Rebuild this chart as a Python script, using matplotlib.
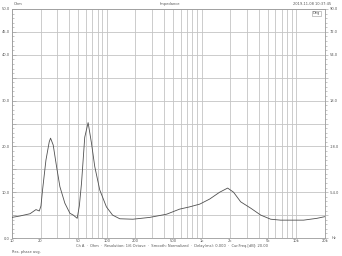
import matplotlib
matplotlib.use("Agg")
import matplotlib.pyplot as plt
from matplotlib.ticker import FixedLocator, NullFormatter, MultipleLocator

# ---- data ----
freq_hz = [10, 12.1, 15.5, 17.9, 19.4, 20.2, 21.0, 22.8, 24.7, 25.5, 27.2, 29.5,
           32.0, 36.1, 40.8, 44.3, 48.7, 51.3, 54.1, 58.5, 63.5, 68.9, 74.6,
           84.2, 99, 115, 137, 188, 284, 428, 585, 748, 956, 1214, 1550, 1880,
           2170, 2580, 3300, 4200, 5350, 6800, 11900, 16500, 19800]
impedance_ohm = [4.5, 4.8, 5.3, 6.2, 5.9, 7.0, 10.5, 17.0, 21.0, 21.8, 20.3, 15.6,
                 11.2, 7.6, 5.4, 5.0, 4.3, 7.0, 12.0, 22.0, 25.2, 20.7, 15.6,
                 10.5, 6.8, 5.0, 4.2, 4.1, 4.5, 5.2, 6.3, 6.8, 7.4, 8.5, 10.0, 10.9,
                 10.0, 7.9, 6.5, 5.0, 4.1, 3.9, 3.9, 4.3, 4.65]

x_tick_values = [10, 20, 50, 100, 200, 500, 1000, 2000, 5000, 10000, 20000]
x_tick_labels = ["10", "20", "50", "100", "200", "500", "1k", "2k", "5k", "10k", "20k"]
left_tick_values = [0, 10, 20, 30, 40, 45, 50]
left_tick_labels = ["0.0", "10.0", "20.0", "30.0", "40.0", "45.0", "50.0"]
right_tick_values = [-54, -18, 18, 54, 72, 90]
right_tick_labels = ["-54.0", "-18.0", "18.0", "54.0", "72.0", "90.0"]

title_text = "Impedance"
left_unit = "Ohm"
right_unit = "Deg"
x_unit = "Hz"
date_text = "2019-11-08 10:37:45"
footer_text = ("Ch A  \u00b7  Ohm  \u00b7  Resolution: 1/6 Octave  \u00b7  Smooth: Normalized  \u00b7  "
               "Delay(ms): 0.000  \u00b7  Cur.Freq.[dB]: 20.00")
corner_text = "Res. phase avg."

# ---- figure ----
fig = plt.figure(figsize=(3.42, 2.56), dpi=100)
fig.patch.set_facecolor("white")
ax = fig.add_axes([12/342, 1-238/256, 313/342, 229/256])

grid_c = "#c4c4c4"
frame_c = "#9a9a9a"
text_c = "#555555"
fs = 2.6

ax.plot(freq_hz, impedance_ohm, color="#505050", lw=0.6, zorder=3)
ax.set_xscale("log")
ax.set_xlim(10, 20000)
ax.set_ylim(0, 50)

minor_x = [m * 10**d for d in range(1, 5) for m in range(1, 10) if m * 10**d <= 20000]
ax.xaxis.set_major_locator(FixedLocator(x_tick_values))
ax.xaxis.set_minor_locator(FixedLocator(minor_x))
ax.set_xticklabels(x_tick_labels)
ax.xaxis.set_minor_formatter(NullFormatter())
ax.grid(True, which="both", axis="x", color=grid_c, lw=0.6)
ax.yaxis.set_minor_locator(MultipleLocator(1))
ax.set_yticks([v for v in range(0, 51, 5)])
ax.set_yticklabels([left_tick_labels[left_tick_values.index(v)] if v in left_tick_values else ""
                    for v in range(0, 51, 5)])
ax.grid(True, which="major", axis="y", color=grid_c, lw=0.6)

ax.tick_params(axis="x", which="both", length=0, labelsize=fs, labelcolor=text_c, pad=0.8)
ax.tick_params(axis="y", which="major", direction="in", length=3, width=0.4, color=frame_c,
               labelsize=fs, labelcolor=text_c, pad=1.5)
ax.tick_params(axis="y", which="minor", direction="in", length=1.5, width=0.4, color=frame_c)
for s in ax.spines.values():
    s.set_color(frame_c)
    s.set_linewidth(0.6)

ax2 = ax.twinx()
ax2.set_ylim(-90, 90)
ax2.set_yticks([-90 + 18 * i for i in range(11)])
ax2.set_yticklabels([right_tick_labels[right_tick_values.index(-90 + 18 * i)]
                     if (-90 + 18 * i) in right_tick_values else "" for i in range(11)])
ax2.yaxis.set_minor_locator(MultipleLocator(3.6))
ax2.tick_params(axis="y", which="major", direction="out", length=2, width=0.4, color=frame_c,
                labelsize=fs, labelcolor=text_c, pad=1.5)
ax2.tick_params(axis="y", which="minor", direction="out", length=1.2, width=0.4, color=frame_c)
for s in ax2.spines.values():
    s.set_visible(False)

ax.text(0.985, 0.99, right_unit, transform=ax.transAxes, ha="right", va="top",
        fontsize=fs, color=text_c,
        bbox=dict(boxstyle="square,pad=0.2", fc="white", ec=frame_c, lw=0.4))

fig.text(14/342, 1-4/256, left_unit, fontsize=fs, color=text_c, ha="left", va="center")
fig.text(170/342, 1-4/256, title_text, fontsize=fs, color=text_c, ha="center", va="center")
fig.text(331/342, 1-4/256, date_text, fontsize=fs, color=text_c, ha="right", va="center")
fig.text(334/342, 1-238/256, x_unit, fontsize=fs, color=text_c, ha="center", va="center")
fig.text(172/342, 1-246/256, footer_text, fontsize=fs, color=text_c, ha="center", va="center")
fig.text(12/342, 1-251.5/256, corner_text, fontsize=fs, color=text_c, ha="left", va="center")

fig.savefig("out.png", dpi=100, facecolor="white")
